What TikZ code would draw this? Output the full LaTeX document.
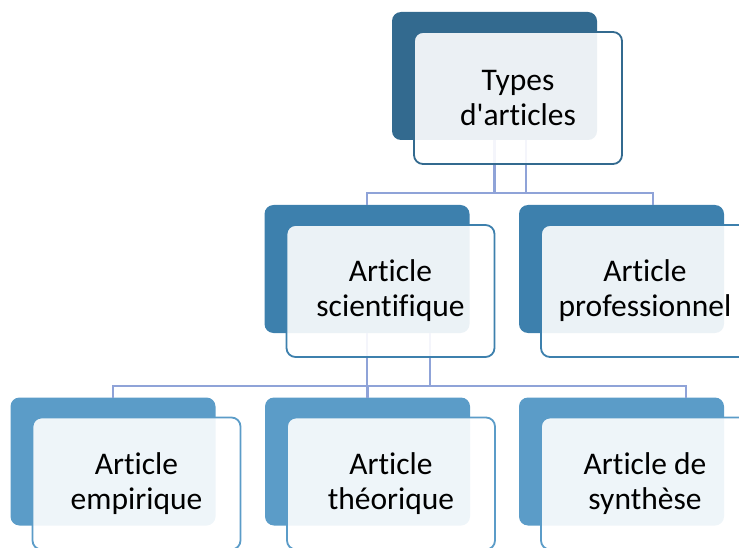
\documentclass[tikz,border=0pt]{standalone}
\usepackage{fontspec}
\setmainfont{Carlito}[Ligatures={NoCommon}]
\definecolor{niveauA}{HTML}{336A8F}
\definecolor{niveauB}{HTML}{3D80AD}
\definecolor{niveauC}{HTML}{5B9CC8}
\definecolor{couleurLien}{HTML}{8FA3D8}

\begin{document}
\begin{tikzpicture}[x=1pt, y=-1pt,
    fond/.style={rounded corners=9pt, minimum width=205pt, minimum height=128pt, inner sep=0pt, outer sep=0pt},
    cadre/.style={rounded corners=9pt, minimum width=208pt, minimum height=132pt, inner sep=0pt, outer sep=0pt,
        line width=1.8pt, fill=white, fill opacity=0.9, text opacity=1, align=center,
        font=\fontsize{31.5}{35}\selectfont},
    liaison/.style={couleurLien, line width=2.4pt}]
    \useasboundingbox (0,0) rectangle (739,548);

    % Rectangles du fond
    \node[fond, fill=niveauA] (typesB) at (494.5,76) {};
    \node[fond, fill=niveauB] (sciB) at (367,269) {};
    \node[fond, fill=niveauB] (proB) at (621.5,269) {};
    \node[fond, fill=niveauC] (empB) at (113,461.5) {};
    \node[fond, fill=niveauC] (theoB) at (367.5,461.5) {};
    \node[fond, fill=niveauC] (synB) at (621.5,461.5) {};

    % Liaisons
    \coordinate (busA) at (0,193);
    \coordinate (busB) at (0,386);
    \coordinate (typesB2) at ([xshift=31.5pt]typesB.south);
    \coordinate (proB2) at ([xshift=31.5pt]proB.north);
    \coordinate (sciB2) at ([xshift=63pt]sciB.south);
    \coordinate (synB2) at ([xshift=64.5pt]synB.north);
    % premier niveau
    \draw[liaison] (typesB.south) -- (typesB.south |- busA);
    \draw[liaison] (typesB2) -- (typesB2 |- busA);
    \draw[liaison] (sciB.north) -- (sciB.north |- busA) -- (proB2 |- busA) -- (proB2);
    % second niveau
    \draw[liaison] (sciB.south) -- (sciB.south |- busB);
    \draw[liaison] (sciB2) -- (sciB2 |- busB);
    \draw[liaison] (empB.north) -- (empB.north |- busB) -- (synB2 |- busB) -- (synB2);
    \draw[liaison] (theoB.north |- busB) -- (theoB.north);

    % Cadres avec texte
    \node[cadre, draw=niveauA] (types) at ([shift={(23.5,22)}]typesB) {Types\\d\textquotesingle articles};
    \node[cadre, draw=niveauB] (sci) at ([shift={(23.5,22)}]sciB) {Article\\scientifique};
    \node[cadre, draw=niveauB] (pro) at ([shift={(23.5,22)}]proB) {Article\\professionnel};
    \node[cadre, draw=niveauC] (emp) at ([shift={(23.5,22)}]empB) {Article\\empirique};
    \node[cadre, draw=niveauC] (theo) at ([shift={(23.5,22)}]theoB) {Article\\théorique};
    \node[cadre, draw=niveauC] (syn) at ([shift={(23.5,22)}]synB) {Article de\\synthèse};
\end{tikzpicture}
\end{document}
